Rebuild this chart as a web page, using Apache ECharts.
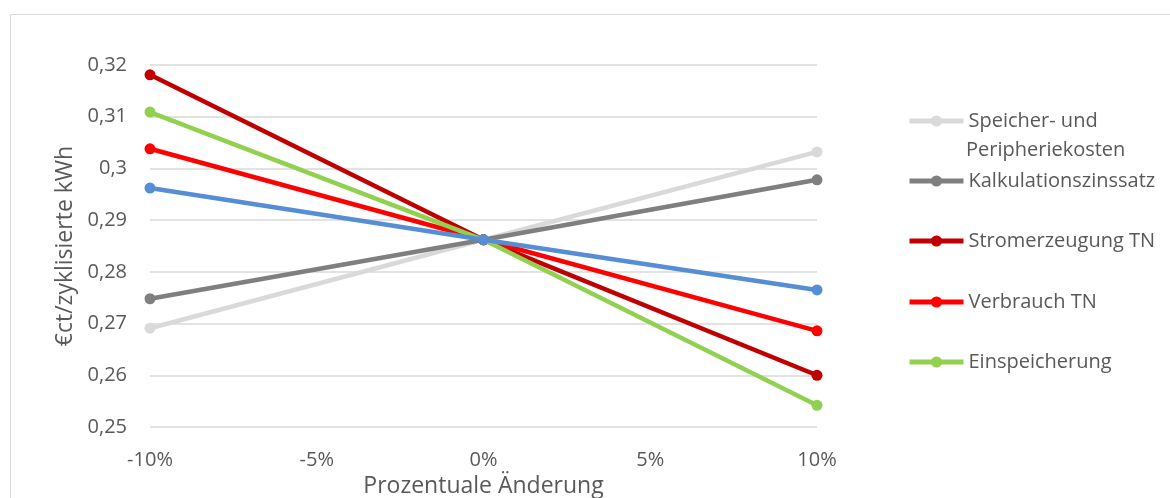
<!DOCTYPE html>
<html>
<head>
<meta charset="utf-8">
<script src="https://cdn.jsdelivr.net/npm/echarts@6/dist/echarts.min.js"></script>
<style>
  html, body { margin: 0; padding: 0; background: #fff; }
  #chart { width: 1170px; height: 498px; }
</style>
</head>
<body>
<div id="chart"></div>
<script>
// x positions (percent change)
var xValues = [-10, 0, 10];

var speicher = [0.2691, 0.2862, 0.3032];
var kalkulation = [0.2748, 0.2862, 0.2978];
var stromerzeugung = [0.3181, 0.2862, 0.2600];
var verbrauch = [0.3038, 0.2862, 0.2686];
var einspeicherung = [0.3109, 0.2862, 0.2542];
var sonstige = [0.2962, 0.2862, 0.2765];

var seriesNames = ['Speicher- und Peripheriekosten', 'Kalkulationszinssatz', 'Stromerzeugung TN', 'Verbrauch TN', 'Einspeicherung', 'Sonstige'];
var seriesValues = [speicher, kalkulation, stromerzeugung, verbrauch, einspeicherung, sonstige];
var colors = ['#d9d9d9', '#7f7f7f', '#c00000', '#ff0000', '#92d050', '#558ed5'];

var font = '"Open Sans", sans-serif';
var textColor = '#595959';

var chart = echarts.init(document.getElementById('chart'));

var series = seriesNames.map(function (name, i) {
  return {
    name: name,
    type: 'line',
    data: xValues.map(function (x, j) { return [x, seriesValues[i][j]]; }),
    symbol: 'circle',
    symbolSize: 11,
    lineStyle: { width: 4.5, color: colors[i] },
    itemStyle: { color: colors[i] },
    z: 2 + i
  };
});

// one legend per entry (the blue series has none)
var legendCenters = [121, 181, 241, 302, 362];
var legends = legendCenters.map(function (c, i) {
  return {
    data: [seriesNames[i]],
    left: 907,
    top: c - 12,
    orient: 'vertical',
    padding: 0,
    itemWidth: 54,
    itemHeight: 14,
    selectedMode: false,
    lineStyle: { width: 5 },
    formatter: i === 0 ? 'Speicher- und' : '{name}',
    textStyle: { fontFamily: font, fontSize: 20, color: textColor, lineHeight: 24 }
  };
});

var option = {
  backgroundColor: '#fff',
  animation: false,
  grid: { left: 150, right: 353, top: 65, bottom: 71, containLabel: false, outerBoundsMode: 'none' },
  legend: legends,
  graphic: [
    {
      type: 'rect',
      shape: { x: 10.5, y: 14.5, width: 1300, height: 700 },
      style: { fill: 'none', stroke: '#d9d9d9', lineWidth: 1 },
      silent: true
    },
    {
      type: 'text',
      left: 966,
      top: 138,
      style: { text: 'Peripheriekosten', fontFamily: font, fontSize: 20, lineHeight: 24, fill: textColor }
    }
  ],
  xAxis: {
    type: 'value',
    min: -10,
    max: 10,
    interval: 5,
    name: 'Prozentuale Änderung',
    nameLocation: 'middle',
    nameGap: 43,
    nameTextStyle: { fontFamily: font, fontSize: 23, color: textColor },
    axisLine: { show: false },
    axisTick: { show: false },
    splitLine: { show: false },
    axisLabel: {
      margin: 23,
      fontFamily: font, fontSize: 20, color: textColor,
      formatter: function (v) { return v + '%'; }
    }
  },
  yAxis: {
    type: 'value',
    min: 0.25,
    max: 0.32,
    interval: 0.01,
    name: '€ct/zyklisierte kWh',
    nameLocation: 'middle',
    nameRotate: 90,
    nameGap: 70,
    nameTextStyle: { fontFamily: font, fontSize: 23, color: textColor },
    axisLine: { show: false },
    axisTick: { show: false },
    splitLine: { lineStyle: { color: '#d9d9d9', width: 1.5 } },
    axisLabel: {
      margin: 23,
      fontFamily: font, fontSize: 20, color: textColor,
      formatter: function (v) { return String(+v.toFixed(2)).replace('.', ','); }
    }
  },
  series: series
};

chart.setOption(option);
</script>
</body>
</html>
